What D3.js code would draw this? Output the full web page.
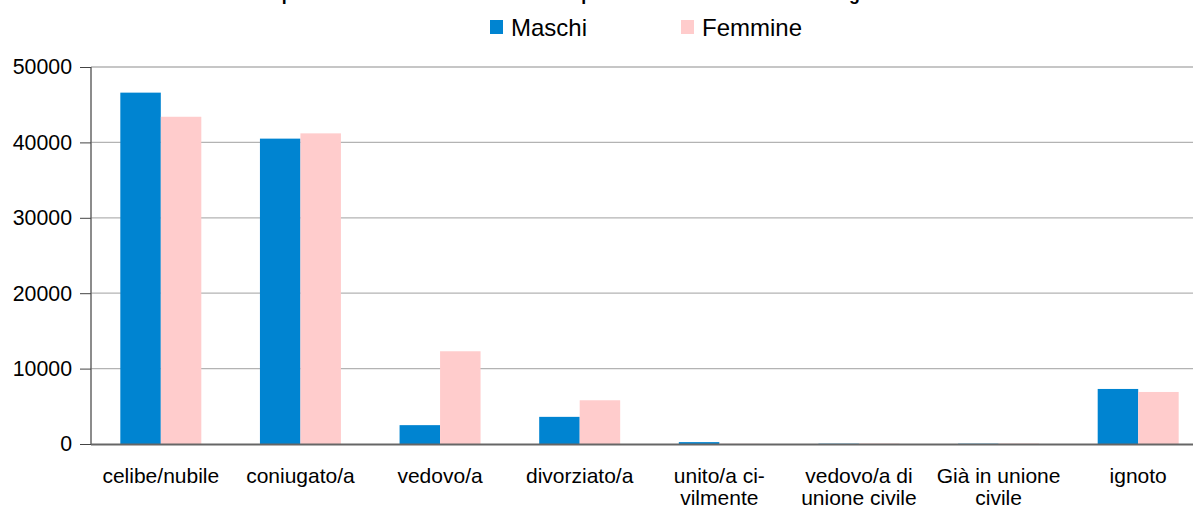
<!DOCTYPE html>
<html><head><meta charset="utf-8">
<script src="https://cdn.jsdelivr.net/npm/d3@7"></script>
<style>body{margin:0;background:#fff;overflow:hidden}svg{display:block;font-family:"Liberation Sans",Arial,sans-serif}</style>
</head><body><svg id="c" width="1193" height="507"></svg>
<script>
const categories = [["celibe/nubile"],["coniugato/a"],["vedovo/a"],["divorziato/a"],["unito/a ci-","vilmente"],["vedovo/a di","unione civile"],["Già in unione","civile"],["ignoto"]];
const maschi  = [46600, 40500, 2500, 3600, 250, 40, 40, 7300];
const femmine = [43400, 41200, 12300, 5800, 30, 60, 60, 6900];
const seriesNames = ["Maschi","Femmine"];
const colors = ["#0084d1","#ffcccc"];
const yTicks = [0,10000,20000,30000,40000,50000];
const title = "Popolazione residente al 31 dicembre per stato civile e sesso nella Regione";

const svg = d3.select("#c");
const L = 91, R = 1208, T = 67, B = 444;
const x = d3.scaleBand().domain(d3.range(categories.length)).range([L,R]).paddingInner(0.42).paddingOuter(0.21);
const xs = d3.scaleBand().domain([0,1]).range([0,x.bandwidth()]);
const y = d3.scaleLinear().domain([0,50000]).range([B,T]);

// title (mostly cut off at top)
svg.append("text").attr("x",259).attr("y",0).attr("font-weight","bold").attr("font-size",17.8).attr("fill","#000").text(title);

// gridlines
svg.append("g").selectAll("line").data(yTicks.filter(d=>d>0)).join("line")
  .attr("x1",L).attr("x2",R).attr("y1",d=>y(d)).attr("y2",d=>y(d))
  .attr("stroke","#b3b3b3").attr("stroke-width",1.3);

// y axis
const ya = svg.append("g").attr("transform",`translate(${L},0)`)
  .call(d3.axisLeft(y).tickValues(yTicks).tickSize(11).tickPadding(8).tickFormat(d3.format("d")));
ya.select(".domain").attr("stroke","#666").attr("stroke-width",1.5).attr("d",`M0,${T}V${B}`);
ya.selectAll(".tick line").attr("stroke","#444");
ya.selectAll("text").attr("font-size",21.3).attr("fill","#000").attr("font-family","Liberation Sans, Arial, sans-serif");

// bars
const data = categories.map((c,i)=>[maschi[i],femmine[i]]);
const g = svg.append("g");
data.forEach((vals,i)=>{
  vals.forEach((v,j)=>{
    g.append("rect").attr("x",x(i)+xs(j)).attr("width",xs.bandwidth())
      .attr("y",y(v)).attr("height",B-y(v)).attr("fill",colors[j]);
  });
});

// x axis line
svg.append("line").attr("x1",L).attr("x2",R).attr("y1",B+0.5).attr("y2",B+0.5).attr("stroke","#666").attr("stroke-width",2);

// x labels
const xl = svg.append("g");
categories.forEach((lines,i)=>{
  const t = xl.append("text").attr("text-anchor","middle").attr("font-size",21).attr("fill","#000");
  lines.forEach((s,k)=>t.append("tspan").attr("x",x(i)+x.bandwidth()/2).attr("y",483+k*22).text(s));
});

// legend
const leg = [{n:seriesNames[0],c:colors[0],sx:490,tx:511},{n:seriesNames[1],c:colors[1],sx:681,tx:702}];
leg.forEach(d=>{
  svg.append("rect").attr("x",d.sx).attr("y",20).attr("width",13).attr("height",14).attr("fill",d.c);
  svg.append("text").attr("x",d.tx).attr("y",36).attr("font-size",24).attr("fill","#000").text(d.n);
});
</script></body></html>
